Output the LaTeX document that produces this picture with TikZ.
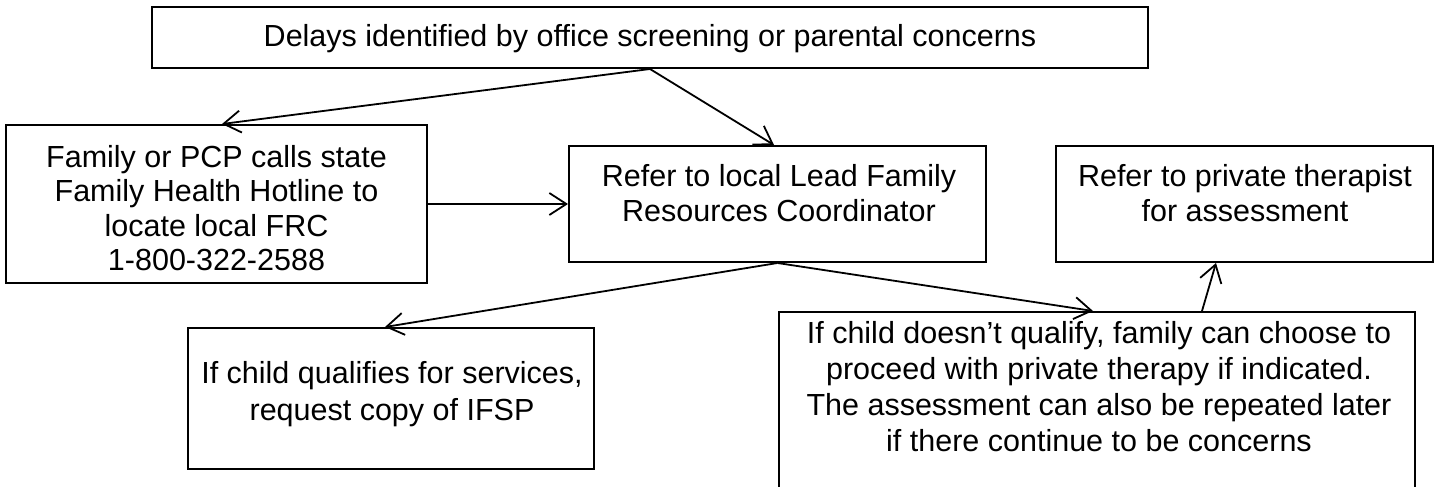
\documentclass[tikz,border=0pt]{standalone}
\usepackage{fontspec}
\setmainfont{Liberation Sans}
\usetikzlibrary{arrows.meta,calc}
\begin{document}
\begin{tikzpicture}[x=1pt,y=-1pt,
  box/.style={draw=black, line width=2pt, inner sep=0pt, fill=none},
  txt/.style={inner sep=0pt, align=center, text=black},
  arr/.style={draw=black, line width=1.8pt, -{Straight Barb[length=17pt,width=22pt,line width=1.8pt]}}
]
\useasboundingbox (0,0) rectangle (1438,487);
% boxes
\node[box, minimum width=996pt, minimum height=61pt]  (top) at (650,37.5) {};
\node[box, minimum width=421pt, minimum height=158pt] (left) at (216.5,204) {};
\node[box, minimum width=417pt, minimum height=116pt] (mid) at (777.5,204) {};
\node[box, minimum width=377pt, minimum height=116pt] (tr) at (1244.5,204) {};
\node[box, minimum width=406pt, minimum height=141pt] (bl) at (391,398.5) {};
\node[box, minimum width=636pt, minimum height=188pt] (br) at (1097,406) {};
% texts
\node[txt, anchor=base, font=\fontsize{30.5}{35}\selectfont] (ttop) at (650,47) {Delays identified by office screening or parental concerns};
\node[txt, anchor=north, font=\fontsize{30.5}{34.5}\selectfont] (tleft) at (216.5,145) {Family or PCP calls state\\Family Health Hotline to\\locate local FRC\\1-800-322-2588};
\node[txt, anchor=north, font=\fontsize{30.5}{35}\selectfont] (tmid) at (779,164) {Refer to local Lead Family\\Resources Coordinator};
\node[txt, anchor=north, font=\fontsize{30.5}{35}\selectfont] (ttr) at (1245,164) {Refer to private therapist\\for assessment};
\node[txt, anchor=north, font=\fontsize{30.5}{37}\selectfont] (tbl) at (392,361) {If child qualifies for services,\\request copy of IFSP};
\node[txt, anchor=north, font=\fontsize{30.5}{36}\selectfont] (tbr) at (1099,321) {If child doesn’t qualify, family can choose to\\proceed with private therapy if indicated.\\The assessment can also be repeated later\\if there continue to be concerns};
% connectors
\draw[arr] (top.south) -- ([xshift=5.5pt]left.north);
\draw[arr] (top.south) -- ([xshift=-3.5pt]mid.north);
\draw[arr] (left.east) -- (mid.west);
\draw[arr] (mid.south) -- ([xshift=-6pt]bl.north);
\draw[arr] (mid.south) -- ([xshift=-4pt]br.north);
\draw[arr] ([xshift=105pt]br.north) -- ([xshift=-28.5pt]tr.south);
\end{tikzpicture}
\end{document}
